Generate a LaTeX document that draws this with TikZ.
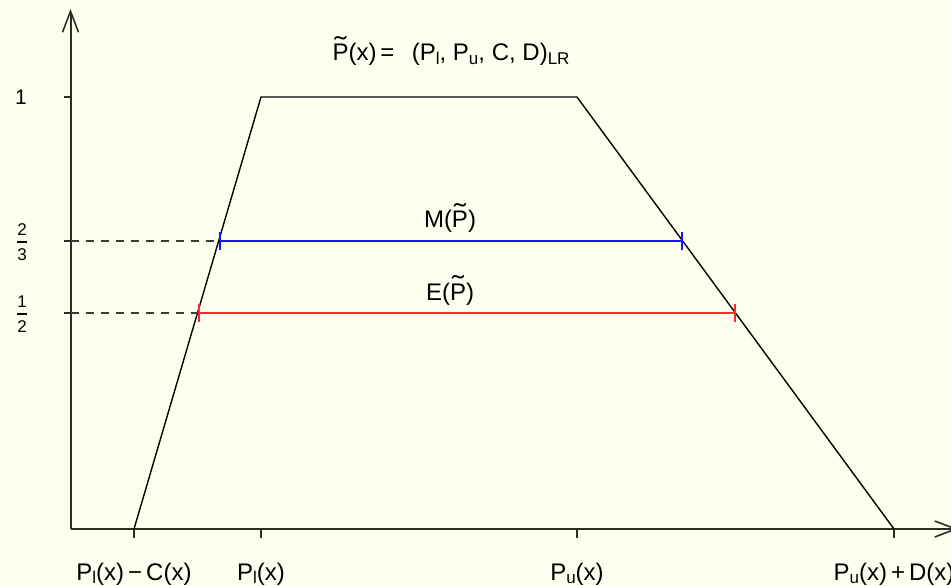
\documentclass[tikz,border=0pt]{standalone}
\usepackage{fontspec}
\usepackage{graphicx}
\setmainfont{Liberation Sans}
\usetikzlibrary{arrows.meta}
\definecolor{bgc}{RGB}{255,255,240}
\definecolor{axisc}{RGB}{45,45,38}
\definecolor{dashc}{RGB}{60,60,55}
\definecolor{mblue}{RGB}{20,20,255}
\definecolor{ered}{RGB}{255,40,40}
\newcommand\lsub[1]{\raisebox{-3.5bp}{\fontsize{17bp}{17bp}\selectfont #1}}
\newcommand\tP{\leavevmode\hbox{\ooalign{P\cr\hidewidth\raisebox{5.5bp}{\scalebox{1.5}[1.1]{\char"02DC}}\hidewidth\cr}}}
\tikzset{
  txt/.style={font=\fontsize{24bp}{26bp}\selectfont, inner sep=0pt, anchor=base},
  ticklab/.style={font=\fontsize{21bp}{22bp}\selectfont, inner sep=0pt},
  fraclab/.style={font=\fontsize{17bp}{18bp}\selectfont, inner sep=0pt},
  axisline/.style={draw=axisc, line width=2bp},
  curve/.style={draw=black, line width=1.4bp, line join=miter},
  guide/.style={draw=dashc, line width=1.4bp, dash pattern=on 8bp off 7bp},
  interval/.style={line width=2bp, {Bar[width=18bp]}-{Bar[width=18bp]}},
  axarrow/.style={-{Straight Barb[length=21bp,width=16bp,line width=1.6bp]}}
}
\begin{document}
\begin{tikzpicture}[x=1bp,y=-1bp]
\fill[bgc] (0,0) rectangle (951,586);
\useasboundingbox (0,0) rectangle (951,586);
% key points
\coordinate (O) at (70.5,529);
\coordinate (ytip) at (70.5,9);
\coordinate (xtip) at (958,529);
\coordinate (A) at (134,529);
\coordinate (B) at (261,97);
\coordinate (C) at (577,97);
\coordinate (D) at (894,529);
\coordinate (tA) at (134,529);
\coordinate (tB) at (261,529);
\coordinate (tC) at (577,529);
\coordinate (tD) at (894,529);
\coordinate (y1) at (70.5,97);
\coordinate (y23) at (70.5,241);
\coordinate (y12) at (70.5,313);
\coordinate (mL) at (218.7,241);
\coordinate (mR) at (682.7,241);
\coordinate (eL) at (197.5,313);
\coordinate (eR) at (735.5,313);
% axes
\draw[axisline, axarrow] (O) -- (ytip);
\draw[axisline, axarrow] (O) -- (xtip);
% ticks
\draw[axisline] (y1) -- ++(-7,0);
\draw[axisline] (y23) -- ++(-7,0);
\draw[axisline] (y12) -- ++(-7,0);
\foreach \p in {tA,tB,tC,tD} \draw[axisline] (\p) -- ++(0,9);
% trapezoid
\draw[curve] (A) -- (B) -- (C) -- (D);
% guides
\draw[guide] (y23) -- (mL);
\draw[guide] (y12) -- (eL);
% intervals
\draw[interval, mblue] (mL) -- (mR);
\draw[interval, ered] (eL) -- (eR);
% labels
\node[txt] (title) at (451,61) {\tP(x)\,=\,\ \ (P\lsub{l}, P\lsub{u}, C, D)\lsub{LR}};
\node[txt] (mlab) at (450,228) {M(\tP)};
\node[txt] (elab) at (450,300) {E(\tP)};
\node[ticklab] (l1) at (21,97) {1};
\node[fraclab] (n23) at (22,230) {2};
\node[fraclab] (d23) at (22,255) {3};
\draw[line width=1.3bp] (17,242) -- (27,242);
\node[fraclab] (n12) at (22,302) {1};
\node[fraclab] (d12) at (22,327) {2};
\draw[line width=1.3bp] (17,314) -- (27,314);
\node[txt] (xa) at (134,580) {P\lsub{l}(x)\,−\,C(x)};
\node[txt] (xb) at (261,580) {P\lsub{l}(x)};
\node[txt] (xc) at (577,580) {P\lsub{u}(x)};
\node[txt] (xd) at (894,580) {P\lsub{u}(x)\,+\,D(x)};
\end{tikzpicture}
\end{document}
